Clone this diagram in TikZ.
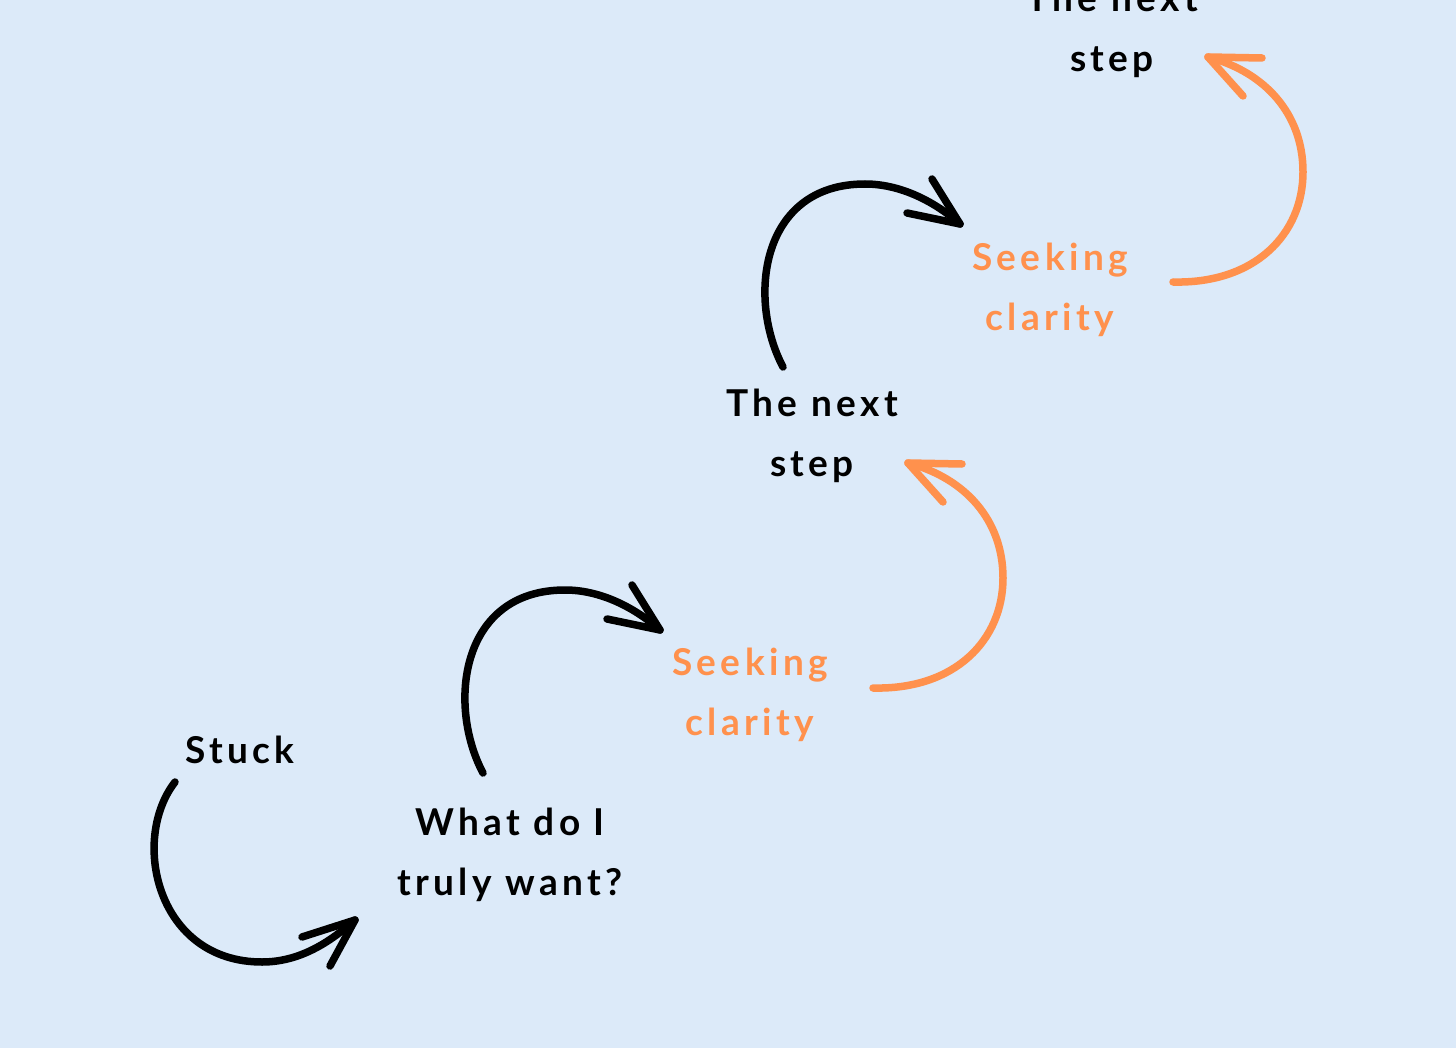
\documentclass[tikz,border=0pt]{standalone}
\usepackage{fontspec}
\setmainfont{Lato}[LetterSpace=12]
\definecolor{bg}{HTML}{DCEAF9}
\definecolor{org}{HTML}{FF914D}
\tikzset{
  lbl/.style={align=center, font=\fontsize{37}{60}\selectfont\bfseries, inner sep=0pt},
  blk/.style={text=black},
  orl/.style={text=org},
  curve/.style={line width=7.5pt, line cap=round, line join=round},
}
\begin{document}
\begin{tikzpicture}[x=1pt,y=-1pt]
\fill[bg] (0,0) rectangle (1456,1048);
\useasboundingbox (0,0) rectangle (1456,1048);
% texts
\node[lbl,blk] (stuck) at (240,750) {Stuck};
\node[lbl,blk] (want) at (510,855) {What do I\\truly want?};
\node[lbl,orl] (seek1) at (750,695) {Seeking\\clarity};
\node[lbl,blk] (next1) at (812,436) {The next\\step};
\node[lbl,orl] (seek2) at (1050,290) {Seeking\\clarity};
\node[lbl,blk] (next2) at (1112,31) {The next\\step};
% arrow coordinates
\coordinate (a1s) at (175,782);
\coordinate (a1t) at (355,920);
\coordinate (a2s) at (483,773);
\coordinate (a2t) at (660,630);
\coordinate (o1s) at (873,688);
\coordinate (o1t) at (908,463);
\coordinate (a3s) at (783,367);
\coordinate (a3t) at (960,224);
\coordinate (o2s) at (1173,282);
\coordinate (o2t) at (1208,57);
% black arrows
\draw[curve] (a1s) .. controls (130,840) and (157,962) .. (262,962) .. controls (300,962) and (330,942) .. (a1t);
\draw[curve] (302,937) -- (a1t) -- (330,966);
\draw[curve] (a2s) .. controls (447,705) and (460,590) .. (565,590) .. controls (605,590) and (640,612) .. (a2t);
\draw[curve] (607,619) -- (a2t) -- (632,585);
\draw[curve] (a3s) .. controls (747,299) and (760,184) .. (865,184) .. controls (905,184) and (940,206) .. (a3t);
\draw[curve] (907,213) -- (a3t) -- (932,179);
% orange arrows
\draw[curve,org] (o1s) .. controls (955,690) and (1003,640) .. (1003,578) .. controls (1003,520) and (965,478) .. (o1t);
\draw[curve,org] (962,464) -- (o1t) -- (943,502);
\draw[curve,org] (o2s) .. controls (1255,284) and (1303,234) .. (1303,172) .. controls (1303,114) and (1265,72) .. (o2t);
\draw[curve,org] (1262,58) -- (o2t) -- (1243,96);
\end{tikzpicture}
\end{document}
